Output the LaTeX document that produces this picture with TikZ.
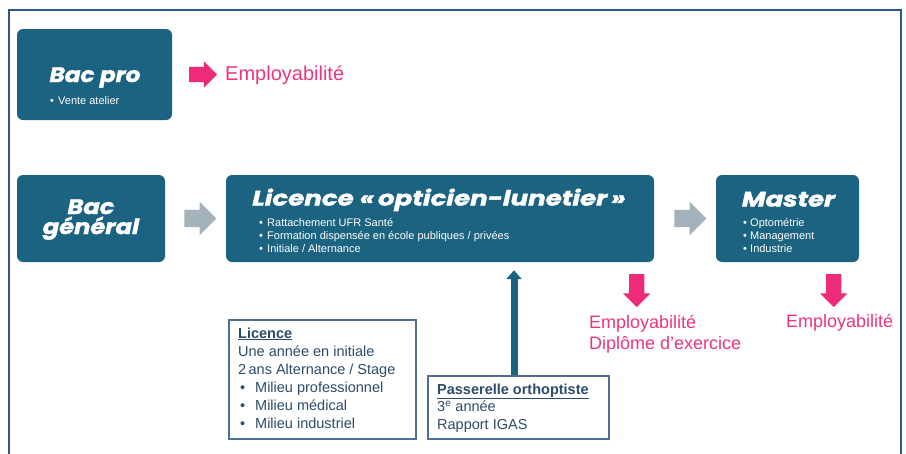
\documentclass[tikz,border=0pt]{standalone}
\usepackage{fontspec}
\setmainfont{Liberation Sans}
\newfontfamily\titlefont{Poppins}[FakeStretch=1.15, BoldItalicFeatures={FakeBold=1.6}]
\usetikzlibrary{shapes.arrows,arrows.meta,calc}
\definecolor{boxblue}{HTML}{1B6381}
\definecolor{framecol}{HTML}{2C5885}
\definecolor{arrgrey}{HTML}{A4B2BB}
\definecolor{pinkc}{HTML}{EE2A7B}
\definecolor{pinktext}{HTML}{EB3580}
\definecolor{navytext}{HTML}{2D4B6C}
\definecolor{thinborder}{HTML}{4D6F94}
\begin{document}
\begin{tikzpicture}[x=1pt,y=-1pt,
  darkbox/.style={fill=boxblue, rounded corners=6pt, inner sep=0pt, draw=none},
  lightbox/.style={draw=thinborder, line width=1.2pt, fill=white, inner sep=0pt},
  ttl/.style={text=white, font=\titlefont\bfseries\itshape\fontsize{21}{20}\selectfont, inner sep=0pt, anchor=base, align=center},
  bul/.style={text=white, font=\fontsize{11}{13}\selectfont, align=left, inner sep=0pt, anchor=base west},
  smalltxt/.style={text=navytext, font=\fontsize{14.5}{18}\selectfont, align=left, inner sep=0pt, anchor=base west},
  pinklbl/.style={text=pinktext, font=\fontsize{18}{21}\selectfont, align=left, inner sep=0pt, anchor=base west},
  greyarrow/.style={single arrow, fill=arrgrey, draw=none, inner sep=8.5pt, single arrow head extend=8pt, minimum height=32pt},
  pinkarrow/.style={single arrow, fill=pinkc, draw=none, inner sep=7.5pt, single arrow head extend=6pt, minimum height=33pt}
]
\useasboundingbox (0,0) rectangle (906,453);
% outer frame
\draw[framecol, line width=2pt] (9,460) -- (9,9.5) -- (901,9.5) -- (901,460);

% boxes
\node[darkbox, minimum width=155pt, minimum height=91pt] (bacpro) at (94.5,74.5) {};
\node[darkbox, minimum width=148pt, minimum height=87pt] (bacgen) at (91,218.5) {};
\node[darkbox, minimum width=428pt, minimum height=87pt] (lic) at (440,218.5) {};
\node[darkbox, minimum width=143pt, minimum height=87pt] (master) at (787.5,218.5) {};
\node[lightbox, minimum width=187pt, minimum height=119pt] (licbox) at (322.5,379.5) {};
\node[lightbox, minimum width=181pt, minimum height=63pt] (pass) at (518.5,407.5) {};

% titles (multi-line nodes: base = last line)
\node[ttl] (tbacpro) at (95,82) {\scalebox{0.96}[1]{Bac pro}};
\node[ttl] (tbacgen) at (91,234) {Bac\\général};
\node[ttl] (tlic) at (439,205.5) {\scalebox{1.08}[1]{Licence «\,opticien-lunetier\,»}};
\node[ttl] (tmaster) at (788.5,206.5) {\scalebox{1.07}[1]{Master}};

% bullets in dark boxes
\node[bul] (bbacpro) at (50,104) {\makebox[8pt][l]{•}Vente atelier};
\node[bul] (blic) at (259,252) {\makebox[8pt][l]{•}Rattachement UFR Santé\\\makebox[8pt][l]{•}Formation dispensée en école publiques / privées\\\makebox[8pt][l]{•}Initiale / Alternance};
\node[bul] (bmaster) at (743,252) {\makebox[7pt][l]{•}Optométrie\\\makebox[7pt][l]{•}Management\\\makebox[7pt][l]{•}Industrie};

% light box texts
\node[smalltxt] (tlicbox) at (238,428) {\underline{\textbf{Licence}}\\Une année en initiale\\2\,ans Alternance / Stage\\\hspace*{2pt}\makebox[15pt][l]{•}Milieu professionnel\\\hspace*{2pt}\makebox[15pt][l]{•}Milieu médical\\\hspace*{2pt}\makebox[15pt][l]{•}Milieu industriel};
\node[smalltxt, font=\fontsize{14.5}{17.5}\selectfont] (tpass) at (437,429) {\underline{\textbf{Passerelle orthoptiste}}\\3\textsuperscript{e} année\\Rapport IGAS};

% arrows
\node[greyarrow] (g1) at ($(bacgen.east)!0.5!(lic.west)+(0.5,0)$) {};
\node[greyarrow] (g2) at ($(lic.east)!0.5!(master.west)+(1,0)$) {};
\node[pinkarrow, inner sep=7.5pt, single arrow head extend=5.5pt, minimum height=28pt] (p0) at ($(bacpro.east)+(27,0)$) {};
\node[pinkarrow, rotate=-90] (p1) at ($(lic.south east)+(-17.5,24.5)$) {};
\node[pinkarrow, rotate=-90] (p2) at ($(master.south east)+(-25.5,24.5)$) {};
\draw[boxblue, line width=7pt, -{Triangle[width=15pt,length=9pt]}] ($(pass.north)+(-4.5,0)$) -- ($(lic.south)+(74,8)$);

% pink labels
\node[pinklbl, font=\fontsize{20}{24}\selectfont] (e0) at (225,80) {Employabilité};
\node[pinklbl] (e1) at (589,349) {Employabilité\\Diplôme d’exercice};
\node[pinklbl] (e2) at (786,327) {Employabilité};
\end{tikzpicture}
\end{document}
